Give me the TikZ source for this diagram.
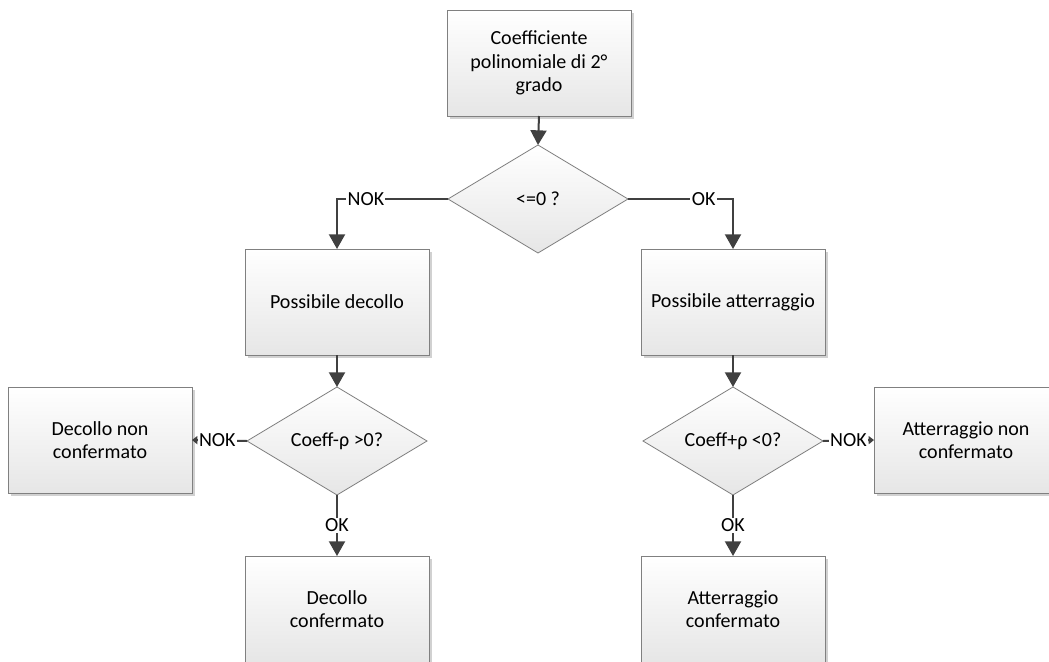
\documentclass[tikz,border=0pt]{standalone}
\usepackage{fontspec}
\setmainfont{Carlito}
\usetikzlibrary{shapes.geometric,shadows,arrows.meta}
\definecolor{linegray}{RGB}{64,64,64}
\definecolor{bordergray}{RGB}{128,128,128}
\definecolor{fillgray}{RGB}{230,230,230}

\begin{document}
\begin{tikzpicture}[x=0.75pt, y=-0.75pt,
    box/.style={rectangle, draw=bordergray, line width=0.6pt, top color=white, bottom color=fillgray,
                minimum width=138pt, minimum height=79.5pt, align=center, inner sep=0pt, outer sep=0pt,
                font=\fontsize{15}{17.5}\selectfont,
                drop shadow={shadow xshift=2.5pt, shadow yshift=-2.5pt, fill=black!18, opacity=1}},
    decision/.style={diamond, draw=bordergray, line width=0.6pt, top color=white, bottom color=fillgray,
                minimum width=135pt, minimum height=81pt, aspect=1.67, inner sep=0pt, outer sep=0pt,
                font=\fontsize{15}{17.5}\selectfont},
    arr/.style={draw=linegray, line width=1.5pt, -{Triangle[length=11pt,width=12pt]}},
    sidearr/.style={draw=linegray, line width=1.5pt, -{Triangle[length=4pt,width=6pt]}},
    lbl/.style={fill=white, inner sep=1pt, font=\fontsize{15}{17.5}\selectfont},
]
\useasboundingbox (0,0) rectangle (1049,661);

% Start
\node[box] (coef) at (539,63) {Coefficiente\\polinomiale di 2°\\grado};
\node[decision] (sign) at (538,199) {<=0 ?};

% Two branches
\node[box] (posdec) at (337,302) {Possibile decollo};
\node[box] (posatt) at (733,302) {Possibile atterraggio};
\node[decision] (chkdec) at (337,441) {Coeff-ρ >0?};
\node[decision] (chkatt) at (733,441) {Coeff+ρ <0?};

% Outcomes
\node[box] (decno) at (100,440) {Decollo non\\confermato};
\node[box] (attno) at (966,440) {Atterraggio non\\confermato};
\node[box] (decok) at (337,609) {Decollo\\confermato};
\node[box] (attok) at (733,609) {Atterraggio\\confermato};

% Connectors
\draw[arr] (coef.south) -- (sign.north);
\draw[arr] (sign.west) -| node[lbl, pos=0.37] {NOK} (posdec.north);
\draw[arr] (sign.east) -| node[lbl, pos=0.36] {OK} (posatt.north);
\draw[arr] (posdec.south) -- (chkdec.north);
\draw[arr] (posatt.south) -- (chkatt.north);
\draw[sidearr] (chkdec.west) -- node[lbl, pos=0.54] {NOK} (decno.east);
\draw[sidearr] (chkatt.east) -- node[lbl, pos=0.5] {NOK} (attno.west);
\draw[arr] (chkdec.south) -- node[lbl] {OK} (decok.north);
\draw[arr] (chkatt.south) -- node[lbl] {OK} (attok.north);
\end{tikzpicture}
\end{document}
